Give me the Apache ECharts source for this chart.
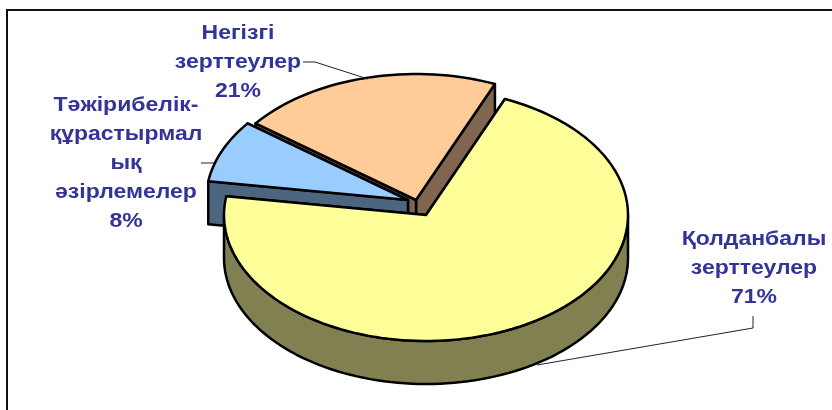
<!DOCTYPE html>
<html>
<head>
<meta charset="utf-8">
<script src="https://cdn.jsdelivr.net/npm/echarts@6/dist/echarts.min.js"></script>
<style>
  html, body { margin: 0; padding: 0; background: #fff; }
  #chart { width: 832px; height: 410px; }
</style>
</head>
<body>
<div id="chart"></div>
<script>
// drawn counter-clockwise from the first angle, back slices first
const categories = ['Негізгі\nзерттеулер', 'Тәжірибелік-\nқұрастырмал\nық\nәзірлемелер', 'Қолданбалы\nзерттеулер']
const shares = [21, 8, 71]

const topColors = ['#FFCC99', '#99CCFF', '#FFFF99']
const wallColors = ['#806650', '#4D6680', '#808050']
// exploded centre of each slice
const centers = [[416, 200], [408, 200], [426, 215]]
const labelPos = [[238, 62], [126, 163], [754, 268]]
const leaders = [
  [[303, 62], [315, 62], [368, 79]],
  [[201, 163], [214, 163]],
  [[753, 316], [753, 328], [537, 365]]
]

const rx = 202
const ry = 126
const depth = 43
const firstAngle = 23

const total = shares.reduce((a, b) => a + b, 0)

function pointAt (c, deg, dy) {
  const t = deg * Math.PI / 180
  return [c[0] + rx * Math.sin(t), c[1] - ry * Math.cos(t) + (dy || 0)]
}

function arc (c, from, to, dy) {
  const pts = []
  const n = Math.max(2, Math.ceil(Math.abs(to - from) / 2))
  for (let i = 0; i <= n; i++) {
    pts.push(pointAt(c, from + (to - from) * i / n, dy))
  }
  return pts
}

const line = { stroke: '#000', lineWidth: 2.5, lineJoin: 'round' }

function renderSlice (params, api) {
  const i = params.dataIndex
  const c = centers[i]
  let end = firstAngle
  for (let k = 0; k < i; k++) end -= shares[k] / total * 360
  const start = end - api.value(0) / total * 360
  const tipA = pointAt(c, end)
  const tipB = pointAt(c, start)
  const base = [c[0], c[1] + depth]
  const wall = { fill: wallColors[i], ...line }
  const children = []

  // cut faces
  children.push({ type: 'polygon', shape: { points: [c, base, [tipA[0], tipA[1] + depth], tipA] }, style: wall })
  children.push({ type: 'polygon', shape: { points: [c, base, [tipB[0], tipB[1] + depth], tipB] }, style: wall })

  // outer wall, only the part facing the viewer
  for (let shift = -360; shift <= 0; shift += 360) {
    const a = Math.max(start, 90 + shift)
    const b = Math.min(end, 270 + shift)
    if (b > a) {
      children.push({
        type: 'polygon',
        shape: { points: arc(c, a, b, 0).concat(arc(c, b, a, depth)) },
        style: wall
      })
    }
  }

  // top face
  children.push({
    type: 'polygon',
    shape: { points: [c].concat(arc(c, start, end)) },
    style: { fill: topColors[i], ...line }
  })

  // leader and label
  children.push({
    type: 'polyline',
    shape: { points: leaders[i] },
    style: { stroke: '#222', lineWidth: 1, fill: null }
  })
  children.push({
    type: 'text',
    z2: 10,
    x: labelPos[i][0],
    y: labelPos[i][1],
    scaleX: 1.15,
    style: {
      text: categories[i] + '\n' + api.value(0) + '%',
      fill: '#333399',
      font: 'bold 20px "Liberation Sans", Arial, sans-serif',
      lineHeight: 29,
      align: 'center',
      verticalAlign: 'middle'
    }
  })
  return { type: 'group', children }
}

const chart = echarts.init(document.getElementById('chart'))
chart.setOption({
  animation: false,
  graphic: [{
    type: 'polyline',
    shape: { points: [[7, 410], [7, 10], [832, 10]] },
    style: { stroke: '#111', lineWidth: 2, fill: null }
  }],
  series: [{
    type: 'custom',
    coordinateSystem: 'none',
    renderItem: renderSlice,
    data: shares.map(v => [v]),
    clip: false
  }]
})
</script>
</body>
</html>
